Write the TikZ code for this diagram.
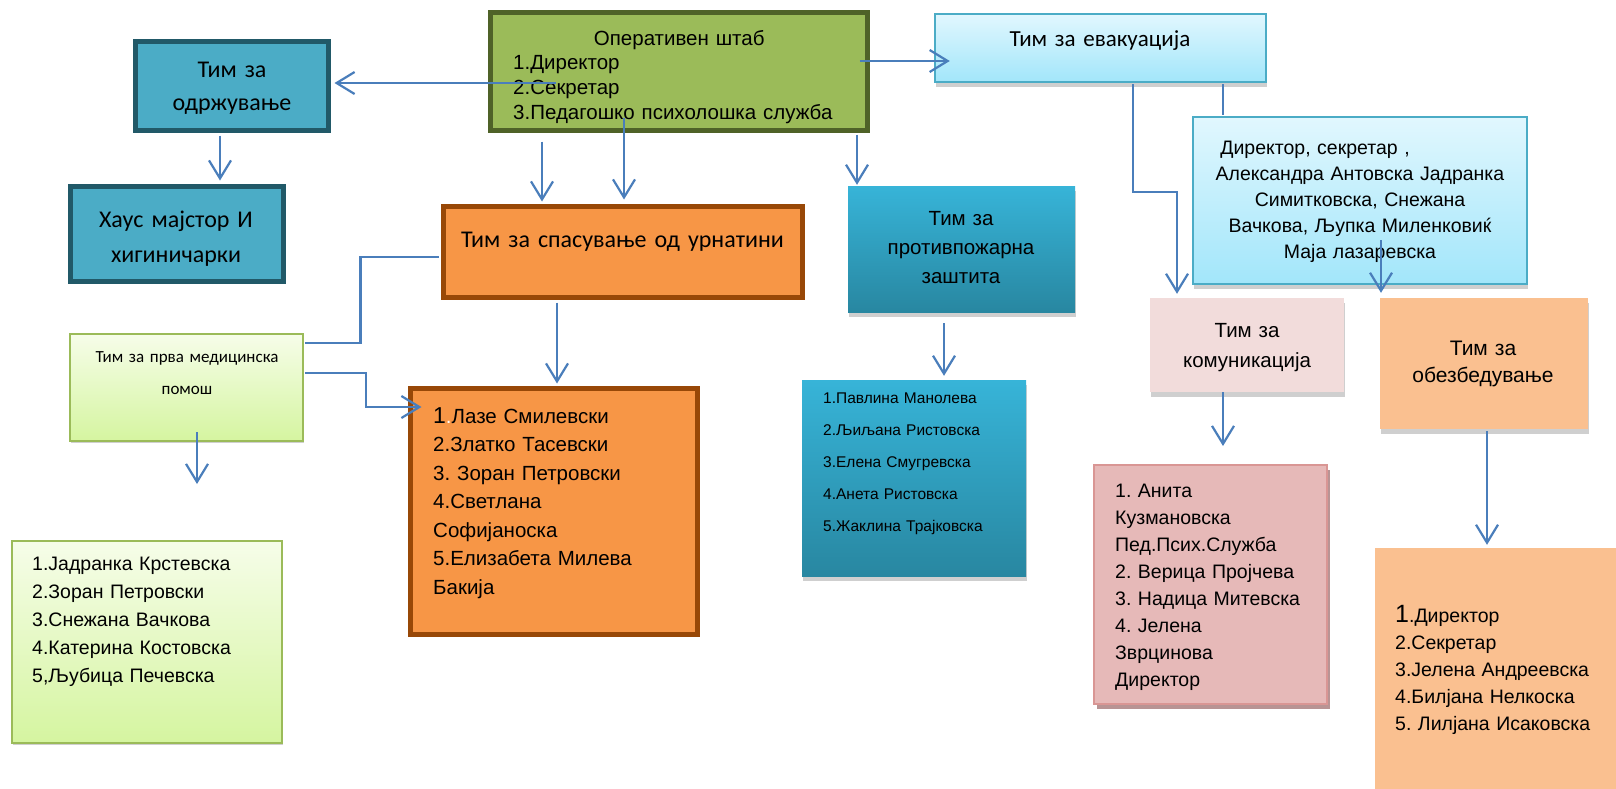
\documentclass[tikz,border=0pt]{standalone}
\usepackage{fontspec}
\setmainfont{Liberation Sans}
\newfontfamily\calibri{Carlito}
\usetikzlibrary{arrows.meta,shadows}
\frenchspacing

\definecolor{linkblue}{HTML}{4A7EBB}
\definecolor{tealfill}{HTML}{4BACC6}
\definecolor{tealline}{HTML}{215968}
\definecolor{olivefill}{HTML}{9BBB59}
\definecolor{oliveline}{HTML}{4F6228}
\definecolor{orangefill}{HTML}{F79646}
\definecolor{orangeline}{HTML}{984807}
\definecolor{skytop}{HTML}{E1F7FE}
\definecolor{skybottom}{HTML}{A2E6FA}
\definecolor{skyline}{HTML}{4BACC6}
\definecolor{firetop}{HTML}{37B4D8}
\definecolor{firebottom}{HTML}{2887A1}
\definecolor{limetop}{HTML}{F6FDE9}
\definecolor{limebottom}{HTML}{D5F5A0}
\definecolor{pinkfill}{HTML}{F2DCDB}
\definecolor{rosefill}{HTML}{E6B9B8}
\definecolor{roseline}{HTML}{D99694}
\definecolor{roseshadow}{HTML}{B89494}
\definecolor{peachfill}{HTML}{FAC090}
\definecolor{shadowgray}{HTML}{CFCFCF}

\tikzset{
  fnt/.style 2 args={font={\fontsize{#1}{#2}\selectfont}},
  calfnt/.style 2 args={font={\calibri\fontsize{#1}{#2}\selectfont}},
  flatshadow/.style={general shadow={fill=shadowgray,shadow xshift=1pt,shadow yshift=-5pt}},
  heavy/.style={inner sep=0pt,line width=5pt},
  tealbox/.style={heavy,draw=tealline,fill=tealfill},
  olivebox/.style={heavy,draw=oliveline,fill=olivefill},
  orangebox/.style={heavy,draw=orangeline,fill=orangefill},
  skybox/.style={inner sep=0pt,flatshadow,draw=skyline,line width=2.5pt,top color=skytop,bottom color=skybottom},
  firebox/.style={inner sep=0pt,flatshadow,top color=firetop,bottom color=firebottom},
  limebox/.style={inner sep=0pt,draw=olivefill,line width=2pt,top color=limetop,bottom color=limebottom,
    general shadow={fill=shadowgray,shadow xshift=1pt,shadow yshift=-2pt}},
  pinkbox/.style={inner sep=0pt,flatshadow,fill=pinkfill},
  rosebox/.style={inner sep=0pt,draw=roseline,line width=2.5pt,fill=rosefill,
    general shadow={fill=roseshadow,shadow xshift=3pt,shadow yshift=-5pt}},
  peachbox/.style={inner sep=0pt,flatshadow,fill=peachfill},
  title/.style={inner sep=0pt,anchor=base,align=center},
  names/.style={inner sep=0pt,anchor=base west,align=left},
  link/.style={draw=linkblue,line width=2.2pt},
  arr/.style={link,-{Straight Barb[length=18pt,width=22pt]}}
}

\begin{document}
\begin{tikzpicture}[x=1pt,y=-1pt]
  \useasboundingbox (0,0) rectangle (1616,788);
  \clip (0,0) rectangle (1616,788);

  \node[olivebox, minimum width=377, minimum height=118] (oper) at (679,71.5) {};
  \node[tealbox, minimum width=193, minimum height=89] (maint) at (232,86) {};
  \node[tealbox, minimum width=213, minimum height=95] (house) at (177,234) {};
  \node[orangebox, minimum width=359, minimum height=91] (rescue) at (623,252) {};
  \node[orangebox, minimum width=287, minimum height=246] (rescuelist) at (554,511.5) {};
  \node[skybox, minimum width=331, minimum height=68] (evac) at (1100.5,48) {};
  \node[skybox, minimum width=334, minimum height=167] (evaclist) at (1360,200.5) {};
  \node[firebox, minimum width=227, minimum height=126] (fire) at (961.5,249) {};
  \node[firebox, minimum width=224, minimum height=196] (firelist) at (914,478) {};
  \node[limebox, minimum width=233, minimum height=107] (med) at (186.5,387.5) {};
  \node[limebox, minimum width=270, minimum height=202] (medlist) at (147,642) {};
  \node[pinkbox, minimum width=194, minimum height=94] (comm) at (1247,345) {};
  \node[rosebox, minimum width=233, minimum height=239] (commlist) at (1210.5,584.5) {};
  \node[peachbox, minimum width=208, minimum height=131] (secur) at (1484,363.5) {};
  \node[peachbox, minimum width=245, minimum height=247] (securlist) at (1497.5,671.5) {};

  \node[names, fnt={20.5}{24.7}, text width=400pt] (operT) at (513,45)
    {\makebox[332pt]{Оперативен штаб}\\1.Директор\\2.Секретар\\3.Педагошко психолошка служба};
  \node[title, calfnt={24}{33}, text width=190pt] (maintT) at (232,77) {Тим за\\одржување};
  \node[title, calfnt={24}{35}, text width=210pt] (houseT) at (176,227) {Хаус мајстор И\\хигиничарки};
  \node[title, calfnt={24}{30}, text width=355pt] (rescueT) at (622.5,247) {Тим за спасување од урнатини};
  \node[names, fnt={20.5}{28.5}, text width=260pt] (rescuelistT) at (433,423)
    {{\fontsize{23}{28.5}\selectfont 1}\textcolor{white}{.}Лазе Смилевски\\2.Златко Тасевски\\3. Зоран Петровски\\4.Светлана\\Софијаноска\\5.Елизабета Милева\\Бакија};
  \node[title, calfnt={23}{28}, text width=320pt] (evacT) at (1100,46) {Тим за евакуација};
  \node[title, fnt={19.5}{26.2}, text width=330pt] (evaclistT) at (1360,154)
    {\mbox{Директор, секретар ,\hspace{90pt}}\\Александра Антовска Јадранка\\Симитковска, Снежана\\Вачкова, Љупка Миленковиќ\\Маја лазаревска};
  \node[title, fnt={20.5}{29}, text width=220pt] (fireT) at (961,225) {Тим за\\противпожарна\\заштита};
  \node[names, fnt={15.5}{32}, text width=200pt] (firelistT) at (823,403)
    {1.Павлина Манолева\\2.Љиљана Ристовска\\3.Елена Смугревска\\4.Анета Ристовска\\5.Жаклина Трајковска};
  \node[title, calfnt={17}{32}, text width=230pt] (medT) at (187,362) {Тим за прва медицинска\\помош};
  \node[names, fnt={19.5}{28.2}, text width=250pt] (medlistT) at (32,570)
    {1.Јадранка Крстевска\\2.Зоран Петровски\\3.Снежана Вачкова\\4.Катерина Костовска\\5,Љубица Печевска};
  \node[title, fnt={20.5}{30}, text width=190pt] (commT) at (1247,337) {Тим за\\комуникација};
  \node[names, fnt={19.5}{27}, text width=210pt] (commlistT) at (1115,497)
    {1. Анита\\Кузмановска\\Пед.Псих.Служба\\2. Верица Пројчева\\3. Надица Митевска\\4. Јелена\\Зврцинова\\Директор};
  \node[title, fnt={21}{27}, text width=200pt] (securT) at (1483,355) {Тим за\\обезбедување};
  \node[names, fnt={19.5}{27}, text width=220pt] (securlistT) at (1395,622)
    {{\fontsize{25}{27}\selectfont 1}.Директор\\2.Секретар\\3.Јелена Андреевска\\4.Билјана Нелкоска\\5. Лилјана Исаковска};

  \coordinate (medend) at (197,484);
  \coordinate (commend) at (1223,446);

  \draw[arr] ([xshift=-123pt,yshift=-11.5pt]oper.center) -- ([xshift=3.5pt,yshift=3pt]maint.east);
  \draw[arr] ([xshift=-12pt,yshift=-2.5pt]maint.south) -- ([xshift=43pt,yshift=3.5pt]house.north);
  \draw[arr] ([xshift=-137pt,yshift=-8.5pt]oper.south) -- ([xshift=-81pt,yshift=2.5pt]rescue.north);
  \draw[arr] ([xshift=-55pt,yshift=15.5pt]oper.south) -- ([xshift=1pt,yshift=4.5pt]rescue.north);
  \draw[arr] ([xshift=178pt,yshift=-1.5pt]oper.south) -- ([xshift=-104.5pt,yshift=1pt]fire.north);
  \draw[arr] ([xshift=-10.5pt,yshift=10.5pt]oper.east) -- ([xshift=16pt,yshift=-13pt]evac.west);
  \draw[arr] ([xshift=32.5pt,yshift=-1pt]evac.south) -- ++(0,108) -| ([xshift=-70pt,yshift=4pt]comm.north);
  \draw[link] ([xshift=122.5pt,yshift=-1pt]evac.south) -- ([xshift=-137pt,yshift=1pt]evaclist.north);
  \draw[arr] ([xshift=21pt,yshift=-39.5pt]evaclist.center) -- ([xshift=-103pt,yshift=5pt]secur.north);
  \draw[arr] ([xshift=-66pt,yshift=-2.5pt]rescue.south) -- ([xshift=3pt,yshift=2.5pt]rescuelist.north);
  \draw[link] ([xshift=-2.5pt,yshift=-5pt]rescue.west) -- ++(-78,0) |- ([xshift=1pt,yshift=44.5pt]med.east);
  \draw[arr] ([xshift=1pt,yshift=14.5pt]med.east) -- ++(61,0) |- ([xshift=13.5pt,yshift=104.5pt]rescuelist.west);
  \draw[arr] ([xshift=10.5pt,yshift=10pt]med.south) -- (medend);
  \draw[arr] ([xshift=-17.5pt,yshift=-11pt]fire.south) -- ([xshift=30pt,yshift=4pt]firelist.north);
  \draw[arr] ([xshift=-24pt]comm.south) -- (commend);
  \draw[arr] ([xshift=3pt,yshift=-2pt]secur.south) -- ([xshift=-10.5pt,yshift=3pt]securlist.north);
\end{tikzpicture}
\end{document}
